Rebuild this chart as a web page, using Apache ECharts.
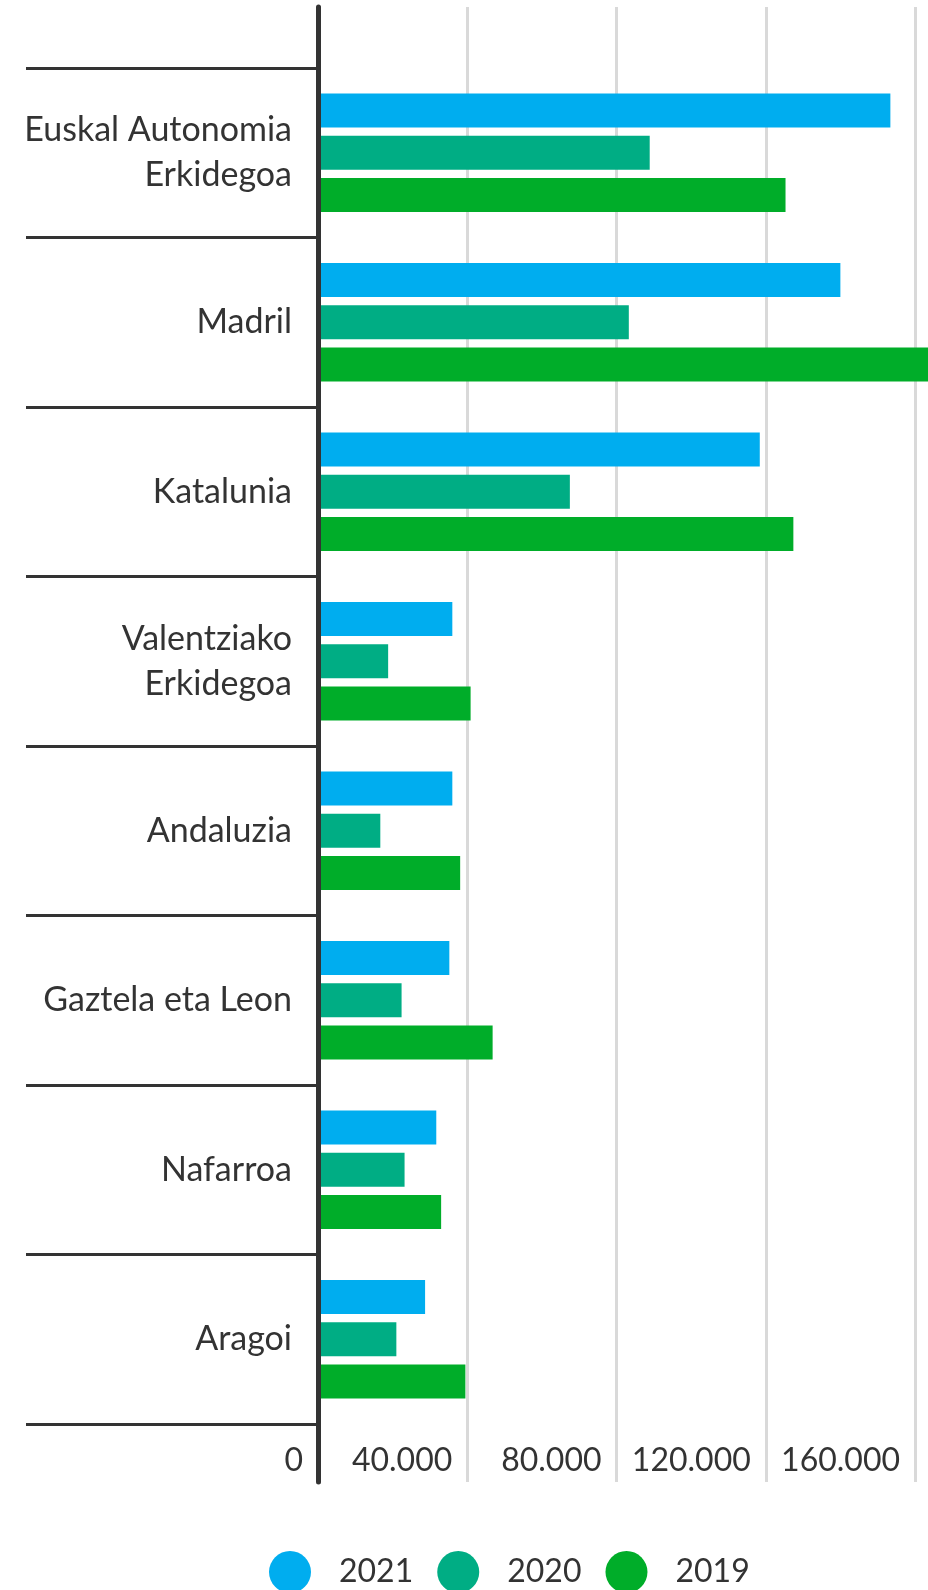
<!DOCTYPE html>
<html lang="eu">
<head>
    <meta charset="UTF-8">
    <title>Bar chart</title>
    <style>
        html, body { margin: 0; padding: 0; background: #fff; }
        #chart { width: 928px; height: 1590px; }
    </style>
</head>
<body>
    <div id="chart"></div>
</body>
<script src="https://cdn.jsdelivr.net/npm/echarts@6/dist/echarts.min.js"></script>
<script type="text/javascript">
    var regions = ['Euskal Autonomia\nErkidegoa', 'Madril', 'Katalunia', 'Valentziako\nErkidegoa',
        'Andaluzia', 'Gaztela eta Leon', 'Nafarroa', 'Aragoi'];
    var years = ['2021', '2020', '2019'];
    var values2021 = [153400, 140000, 118400, 36000, 36000, 35200, 31700, 28700];
    var values2020 = [88900, 83300, 67500, 18800, 16700, 22400, 23200, 21000];
    var values2019 = [125300, 166000, 127400, 40900, 38100, 46800, 33000, 39500];
    var xTicks = [0, 40000, 80000, 120000, 160000];
    var colors = ['#00adef', '#00ad84', '#00ad29'];

    var font = 'Lato, "Noto Sans", sans-serif';
    var textColor = '#333';

    function fmt(v) {
        return String(v).replace(/\B(?=(\d{3})+(?!\d))/g, '.');
    }

    var myChart = echarts.init(document.getElementById('chart'));

    function bar(name, data, color) {
        return {
            name: name,
            type: 'bar',
            xAxisIndex: 0,
            yAxisIndex: 0,
            barWidth: 34,
            barGap: '24%',
            clip: false,
            z: 1,
            itemStyle: { color: color },
            data: data
        };
    }

    myChart.setOption({
        animation: false,
        textStyle: { fontFamily: font },
        color: colors,
        legend: {
            left: 264,
            top: 1546,
            icon: 'circle',
            itemWidth: 42,
            itemHeight: 42,
            itemGap: 24,
            textStyle: {
                fontFamily: font,
                fontSize: 32,
                color: textColor,
                padding: [0, 0, 0, 23]
            },
            data: years
        },
        grid: [
            // bars and category labels
            { left: 318, right: 13, top: 68, bottom: 166 },
            // frame: value gridlines, axis line and tick labels
            { left: 318, right: 13, top: 7, bottom: 108 }
        ],
        xAxis: [{
            gridIndex: 0,
            type: 'value',
            min: 0,
            max: 160000,
            interval: 40000,
            show: false
        }, {
            gridIndex: 1,
            type: 'value',
            min: 0,
            max: 160000,
            interval: 40000,
            axisLine: { show: false },
            axisTick: { show: false },
            splitLine: { lineStyle: { color: '#d9d9d9', width: 3 } },
            axisLabel: {
                inside: true,
                margin: 5,
                align: 'right',
                verticalAlign: 'bottom',
                padding: [0, 15, 0, 0],
                fontFamily: font,
                fontSize: 32,
                color: textColor,
                formatter: function (v) {
                    return xTicks.indexOf(v) >= 0 ? fmt(v) : '';
                }
            }
        }],
        yAxis: [{
            gridIndex: 0,
            type: 'category',
            inverse: true,
            data: regions,
            axisLine: { show: false },
            axisTick: {
                show: true,
                length: 292,
                lineStyle: { color: '#333', width: 3 }
            },
            axisLabel: {
                margin: 26,
                fontFamily: font,
                fontSize: 34,
                lineHeight: 45,
                color: textColor
            }
        }, {
            gridIndex: 1,
            type: 'value',
            z: 5,
            axisLine: { show: true, lineStyle: { color: '#333', width: 5 } },
            axisTick: { show: false },
            axisLabel: { show: false },
            splitLine: { show: false }
        }],
        series: [
            bar('2021', values2021, colors[0]),
            bar('2020', values2020, colors[1]),
            bar('2019', values2019, colors[2])
        ]
    });
</script>
</html>
